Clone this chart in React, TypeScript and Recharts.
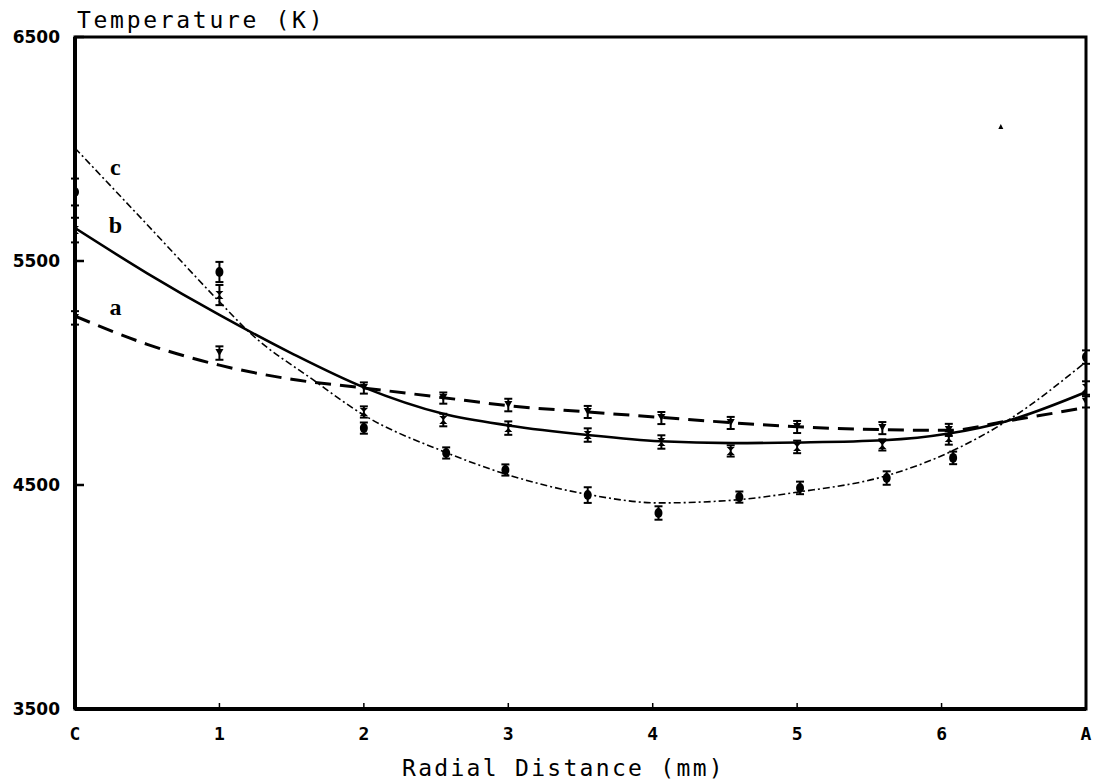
import React from 'react';
import {
  ComposedChart,
  Line,
  Scatter,
  XAxis,
  YAxis,
  ErrorBar,
  ReferenceArea,
  ReferenceDot,
} from 'recharts';

// ---- axis ticks ----
const xTicks = [0, 1, 2, 3, 4, 5, 6, 7];
const xTickLabels = ['C', '1', '2', '3', '4', '5', '6', 'A'];
const yTicks = [3500, 4500, 5500, 6500];

// ---- fitted curves (x in mm, t in K) ----
const curveA = [
  { x: 0, t: 5254 }, { x: 0.5, t: 5128 }, { x: 1, t: 5035 }, { x: 1.5, t: 4972 },
  { x: 2, t: 4933 }, { x: 2.55, t: 4890 }, { x: 3, t: 4854 },
  { x: 3.55, t: 4826 }, { x: 4.05, t: 4802 }, { x: 4.55, t: 4778 }, { x: 5, t: 4760 },
  { x: 5.6, t: 4747 }, { x: 6.05, t: 4744 }, { x: 6.45, t: 4785 }, { x: 7, t: 4846 },
];
const curveB = [
  { x: 0, t: 5647 }, { x: 0.5, t: 5445 }, { x: 1, t: 5259 }, { x: 1.5, t: 5088 },
  { x: 2, t: 4936 }, { x: 2.55, t: 4818 }, { x: 3, t: 4766 },
  { x: 3.55, t: 4723 }, { x: 4.05, t: 4695 }, { x: 4.55, t: 4687 }, { x: 5, t: 4690 },
  { x: 5.6, t: 4700 }, { x: 6.05, t: 4730 }, { x: 6.45, t: 4785 }, { x: 7, t: 4915 },
];
const curveC = [
  { x: 0, t: 6004 }, { x: 0.5, t: 5662 }, { x: 1, t: 5318 }, { x: 1.21, t: 5180 },
  { x: 1.65, t: 4969 }, { x: 2, t: 4812 }, { x: 2.55, t: 4650 }, { x: 3, t: 4545 },
  { x: 3.55, t: 4458 }, { x: 4.05, t: 4420 }, { x: 4.55, t: 4432 }, { x: 5, t: 4468 },
  { x: 5.6, t: 4538 }, { x: 6.05, t: 4645 }, { x: 6.45, t: 4785 }, { x: 7, t: 5050 },
];

// ---- measured points with error (K) ----
const pointsA = [
  { x: 0, t: 5246, err: 30 }, { x: 1, t: 5089, err: 30 }, { x: 2, t: 4933, err: 25 },
  { x: 2.55, t: 4888, err: 25 }, { x: 3, t: 4857, err: 28 }, { x: 3.55, t: 4826, err: 27 },
  { x: 4.06, t: 4799, err: 27 }, { x: 4.54, t: 4777, err: 27 }, { x: 5, t: 4759, err: 27 },
  { x: 5.59, t: 4754, err: 27 }, { x: 6.05, t: 4746, err: 27 }, { x: 7, t: 4871, err: 25 },
];
const pointsB = [
  { x: 0, t: 5638, err: 55 }, { x: 1, t: 5348, err: 45 }, { x: 2, t: 4826, err: 25 },
  { x: 2.55, t: 4790, err: 28 }, { x: 3, t: 4754, err: 30 }, { x: 3.55, t: 4723, err: 30 },
  { x: 4.06, t: 4692, err: 30 }, { x: 4.54, t: 4652, err: 25 }, { x: 5, t: 4670, err: 28 },
  { x: 5.59, t: 4679, err: 25 }, { x: 6.05, t: 4710, err: 30 }, { x: 7, t: 4933, err: 30 },
];
const pointsC = [
  { x: 0, t: 5808, err: 60 }, { x: 1, t: 5451, err: 45 }, { x: 2, t: 4754, err: 25 },
  { x: 2.57, t: 4643, err: 25 }, { x: 2.98, t: 4567, err: 25 }, { x: 3.55, t: 4455, err: 35 },
  { x: 4.04, t: 4375, err: 30 }, { x: 4.6, t: 4446, err: 25 }, { x: 5.02, t: 4487, err: 28 },
  { x: 5.62, t: 4531, err: 30 }, { x: 6.08, t: 4621, err: 28 }, { x: 7, t: 5071, err: 30 },
];
const strayPoint = [{ x: 6.41, t: 6098 }];

// ---- curve names ----
const curveNames = ['a', 'b', 'c'];
const curveNameAnchors = [
  { x: 0.28, t: 5295 },
  { x: 0.28, t: 5661 },
  { x: 0.28, t: 5924 },
];

const W = 1094;
const H = 781;

const YTick = (props: any) => {
  const { x, y, payload } = props;
  return (
    <g>
      <line x1={x} x2={x + 9} y1={y} y2={y} stroke="#000" strokeWidth={2.5} />
      <text
        x={x - 15}
        y={y}
        textAnchor="end"
        dominantBaseline="central"
        fontFamily="'DejaVu Sans', sans-serif"
        fontWeight="bold"
        fontSize={17}
        fill="#000"
      >
        {payload.value}
      </text>
    </g>
  );
};

const XTick = (props: any) => {
  const { x, y, payload } = props;
  const idx = xTicks.indexOf(payload.value);
  return (
    <g>
      <line x1={x} x2={x} y1={y} y2={y - 6} stroke="#000" strokeWidth={1.5} />
      <text
        x={x}
        y={y + 24}
        textAnchor="middle"
        dominantBaseline="central"
        fontFamily="'DejaVu Sans Mono', monospace"
        fontWeight="bold"
        fontSize={18}
        fill="#000"
      >
        {idx >= 0 ? xTickLabels[idx] : payload.value}
      </text>
    </g>
  );
};

const cupShape = (p: any) => {
  const { cx, cy } = p;
  return <path d={`M${cx - 4},${cy - 4} L${cx + 4},${cy - 4} L${cx},${cy + 3} Z`} fill="#000" />;
};
const bowShape = (p: any) => {
  const { cx, cy } = p;
  return (
    <path
      d={`M${cx - 4},${cy - 4} L${cx + 4},${cy - 4} L${cx - 4},${cy + 4} L${cx + 4},${cy + 4} Z`}
      fill="#000"
    />
  );
};
const dotShape = (p: any) => {
  const { cx, cy } = p;
  return <ellipse cx={cx} cy={cy} rx={4} ry={5} fill="#000" />;
};
const tinyShape = (p: any) => {
  const { cx, cy } = p;
  return <path d={`M${cx - 2.5},${cy + 2} L${cx + 2.5},${cy + 2} L${cx},${cy - 3} Z`} fill="#000" />;
};

export default function App() {
  return (
    <div style={{ position: 'absolute', left: 0, top: 0, width: W, height: H, background: '#fff' }}>
      <ComposedChart
        width={W}
        height={H}
        margin={{ top: 37, right: 8, left: 15, bottom: 42 }}
      >
        <XAxis
          dataKey="x"
          type="number"
          domain={[0, 7]}
          ticks={xTicks}
          height={30}
          tickSize={0}
          tickMargin={0}
          tickLine={false}
          tick={<XTick />}
          axisLine={{ stroke: '#000', strokeWidth: 4 }}
          allowDataOverflow
        />
        <YAxis
          dataKey="t"
          type="number"
          domain={[3500, 6500]}
          ticks={yTicks}
          width={60}
          tickSize={0}
          tickMargin={0}
          tickLine={false}
          tick={<YTick />}
          axisLine={{ stroke: '#000', strokeWidth: 4 }}
          allowDataOverflow
        />
        <ReferenceArea
          x1={0}
          x2={7}
          y1={3500}
          y2={6500}
          fill="none"
          fillOpacity={0}
          stroke="#000"
          strokeWidth={3}
        />
        <Line
          data={curveA}
          dataKey="t"
          type="monotone"
          stroke="#000"
          strokeWidth={3}
          strokeDasharray="16 9"
          dot={false}
          activeDot={false}
          isAnimationActive={false}
        />
        <Line
          data={curveB}
          dataKey="t"
          type="monotone"
          stroke="#000"
          strokeWidth={2.6}
          dot={false}
          activeDot={false}
          isAnimationActive={false}
        />
        <Line
          data={curveC}
          dataKey="t"
          type="monotone"
          stroke="#000"
          strokeWidth={1.6}
          strokeDasharray="7 3 2 3"
          dot={false}
          activeDot={false}
          isAnimationActive={false}
        />
        <Scatter data={pointsA} dataKey="t" shape={cupShape} isAnimationActive={false}>
          <ErrorBar dataKey="err" direction="y" width={4} stroke="#000" strokeWidth={2} />
        </Scatter>
        <Scatter data={pointsB} dataKey="t" shape={bowShape} isAnimationActive={false}>
          <ErrorBar dataKey="err" direction="y" width={4} stroke="#000" strokeWidth={2} />
        </Scatter>
        <Scatter data={pointsC} dataKey="t" shape={dotShape} isAnimationActive={false}>
          <ErrorBar dataKey="err" direction="y" width={4} stroke="#000" strokeWidth={2} />
        </Scatter>
        <Scatter data={strayPoint} dataKey="t" shape={tinyShape} isAnimationActive={false} />
        {curveNames.map((n, i) => (
          <ReferenceDot
            key={n}
            x={curveNameAnchors[i].x}
            y={curveNameAnchors[i].t}
            r={1}
            fill="none"
            stroke="none"
            label={{
              value: n,
              position: 'center',
              fill: '#000',
              fontSize: 24,
              fontWeight: 'bold',
              fontFamily: "'Liberation Serif', serif",
            }}
          />
        ))}
      </ComposedChart>
      <svg
        width={W}
        height={H}
        style={{ position: 'absolute', left: 0, top: 0, pointerEvents: 'none' }}
      >
        <text
          x={77}
          y={28}
          fontFamily="'DejaVu Sans Mono', monospace"
          fontSize={23}
          letterSpacing={2.7}
          fill="#000"
        >
          Temperature (K)
        </text>
        <text
          x={402}
          y={776}
          fontFamily="'DejaVu Sans Mono', monospace"
          fontSize={23}
          letterSpacing={2.3}
          fill="#000"
        >
          Radial Distance (mm)
        </text>
      </svg>
    </div>
  );
}
